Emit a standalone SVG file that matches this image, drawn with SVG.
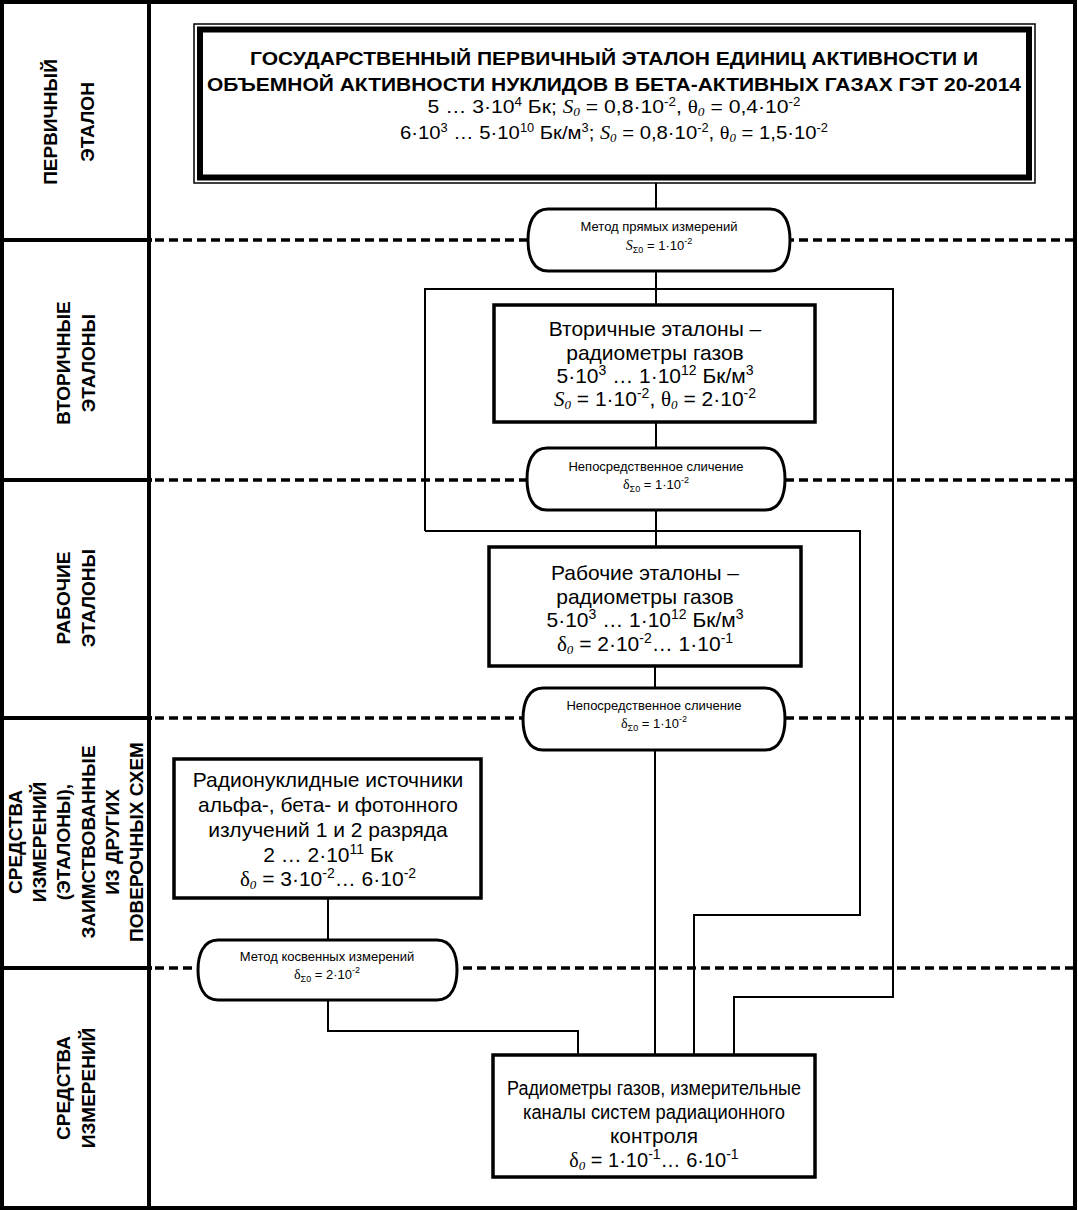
<svg xmlns="http://www.w3.org/2000/svg" width="1078" height="1210" viewBox="0 0 1078 1210">
<style>
text{font-family:"Liberation Sans",Arial,sans-serif;fill:#000}
.b{font-weight:bold}
.lab{font-weight:bold;font-size:19px;text-anchor:middle}
.c{text-anchor:middle}
.it{font-family:"Liberation Serif","Times New Roman",serif;font-style:italic}
.gr{font-family:"Liberation Serif","Times New Roman",serif}
.box{fill:#fff;stroke:#000;stroke-width:3.5}
.ell{fill:#fff;stroke:#000;stroke-width:3}
.ln{fill:none;stroke:#000;stroke-width:2}
.dash{fill:none;stroke:#000;stroke-width:3.5;stroke-dasharray:9 5}
.sep{fill:none;stroke:#000;stroke-width:4}
.t21{font-size:21px}
.t13{font-size:13px}
</style>
<rect x="0" y="0" width="1078" height="1210" fill="#fff"/>
<g id="frame">
<rect x="2" y="2" width="1073" height="1206" class="sep"/>
<line x1="149" y1="0" x2="149" y2="1210" class="sep"/>
<line x1="0" y1="240" x2="152" y2="240" class="sep"/>
<line x1="0" y1="480" x2="152" y2="480" class="sep"/>
<line x1="0" y1="718" x2="152" y2="718" class="sep"/>
<line x1="0" y1="968" x2="152" y2="968" class="sep"/>
<line x1="155" y1="240" x2="1073" y2="240" class="dash"/>
<line x1="155" y1="480" x2="1073" y2="480" class="dash"/>
<line x1="155" y1="718" x2="1073" y2="718" class="dash"/>
<line x1="155" y1="968" x2="1073" y2="968" class="dash"/>
</g>
<g id="labels">
<text class="lab" transform="translate(57,122) rotate(-90)">ПЕРВИЧНЫЙ</text>
<text class="lab" transform="translate(94,122) rotate(-90)">ЭТАЛОН</text>
<text class="lab" transform="translate(70,363) rotate(-90)">ВТОРИЧНЫЕ</text>
<text class="lab" transform="translate(95,363) rotate(-90)">ЭТАЛОНЫ</text>
<text class="lab" transform="translate(70,598) rotate(-90)">РАБОЧИЕ</text>
<text class="lab" transform="translate(95,598) rotate(-90)">ЭТАЛОНЫ</text>
<text class="lab" transform="translate(22,842) rotate(-90)">СРЕДСТВА</text>
<text class="lab" transform="translate(46,842) rotate(-90)">ИЗМЕРЕНИЙ</text>
<text class="lab" transform="translate(70,842) rotate(-90)">(ЭТАЛОНЫ),</text>
<text class="lab" transform="translate(95,842) rotate(-90)">ЗАИМСТВОВАННЫЕ</text>
<text class="lab" transform="translate(119,842) rotate(-90)">ИЗ ДРУГИХ</text>
<text class="lab" transform="translate(143,842) rotate(-90)">ПОВЕРОЧНЫХ СХЕМ</text>
<text class="lab" transform="translate(70,1088) rotate(-90)">СРЕДСТВА</text>
<text class="lab" transform="translate(95,1088) rotate(-90)">ИЗМЕРЕНИЙ</text>
</g>
<g id="connectors">
<line x1="656" y1="183" x2="656" y2="209" class="ln"/>
<line x1="656" y1="271" x2="656" y2="305" class="ln"/>
<polyline points="425,531 425,289 893,289 893,997 734,997 734,1055" class="ln"/>
<polyline points="425,531 860,531 860,915 694,915 694,1055" class="ln"/>
<line x1="656" y1="422" x2="656" y2="448" class="ln"/>
<line x1="656" y1="510" x2="656" y2="547" class="ln"/>
<line x1="655" y1="666" x2="655" y2="688" class="ln"/>
<line x1="655" y1="750" x2="655" y2="1055" class="ln"/>
<line x1="328" y1="898" x2="328" y2="940" class="ln"/>
<polyline points="328,1000 328,1031 578,1031 578,1055" class="ln"/>
</g>
<g id="primary">
<rect x="194" y="24" width="841" height="159" fill="#fff" stroke="#000" stroke-width="1.5"/>
<rect x="200" y="29.5" width="829" height="148" fill="none" stroke="#000" stroke-width="6"/>
<text x="614" y="65" class="b c" font-size="18" textLength="728" lengthAdjust="spacingAndGlyphs">ГОСУДАРСТВЕННЫЙ ПЕРВИЧНЫЙ ЭТАЛОН ЕДИНИЦ АКТИВНОСТИ И</text>
<text x="614" y="91" class="b c" font-size="18" textLength="814" lengthAdjust="spacingAndGlyphs">ОБЪЕМНОЙ АКТИВНОСТИ НУКЛИДОВ В БЕТА-АКТИВНЫХ ГАЗАХ ГЭТ 20-2014</text>
<text x="614" y="113" class="c" font-size="19" textLength="373" lengthAdjust="spacingAndGlyphs">5 … 3·10<tspan font-size="12" dy="-7">4</tspan><tspan dy="7"> Бк; </tspan><tspan class="it">S</tspan><tspan class="it" font-size="12" dy="3">0</tspan><tspan dy="-3"> = 0,8·10</tspan><tspan font-size="12" dy="-7">-2</tspan><tspan dy="7">, </tspan><tspan class="gr">θ</tspan><tspan class="it" font-size="12" dy="3">0</tspan><tspan dy="-3"> = 0,4·10</tspan><tspan font-size="12" dy="-7">-2</tspan></text>
<text x="614" y="139" class="c" font-size="19" textLength="428" lengthAdjust="spacingAndGlyphs">6·10<tspan font-size="12" dy="-7">3</tspan><tspan dy="7"> … 5·10</tspan><tspan font-size="12" dy="-7">10</tspan><tspan dy="7"> Бк/м</tspan><tspan font-size="12" dy="-7">3</tspan><tspan dy="7">; </tspan><tspan class="it">S</tspan><tspan class="it" font-size="12" dy="3">0</tspan><tspan dy="-3"> = 0,8·10</tspan><tspan font-size="12" dy="-7">-2</tspan><tspan dy="7">, </tspan><tspan class="gr">θ</tspan><tspan class="it" font-size="12" dy="3">0</tspan><tspan dy="-3"> = 1,5·10</tspan><tspan font-size="12" dy="-7">-2</tspan></text>
</g>
<g id="method1">
<path d="M548,209 H770 C785,209 790,224 790,240 C790,256 785,271 770,271 H548 C533,271 528,256 528,240 C528,224 533,209 548,209 Z" class="ell"/>
<text x="659" y="231" class="c t13">Метод прямых измерений</text>
<text x="659" y="250" class="c t13"><tspan class="it" font-size="14">S</tspan><tspan font-size="9" dy="3">Σ0</tspan><tspan dy="-3"> = 1·10</tspan><tspan font-size="9" dy="-6">-2</tspan></text>
</g>
<g id="secondary">
<rect x="494" y="305" width="321" height="117" class="box"/>
<text x="655" y="336" class="c t21">Вторичные эталоны –</text>
<text x="655" y="360" class="c t21">радиометры газов</text>
<text x="655" y="383" class="c t21">5·10<tspan font-size="14" dy="-8">3</tspan><tspan dy="8"> … 1·10</tspan><tspan font-size="14" dy="-8">12</tspan><tspan dy="8"> Бк/м</tspan><tspan font-size="14" dy="-8">3</tspan></text>
<text x="655" y="406" class="c t21"><tspan class="it">S</tspan><tspan class="it" font-size="13" dy="3">0</tspan><tspan dy="-3"> = 1·10</tspan><tspan font-size="14" dy="-8">-2</tspan><tspan dy="8">, </tspan><tspan class="gr">θ</tspan><tspan class="it" font-size="13" dy="3">0</tspan><tspan dy="-3"> = 2·10</tspan><tspan font-size="14" dy="-8">-2</tspan></text>
</g>
<g id="compare1">
<path d="M547,448 H765 C780,448 785,463 785,479 C785,495 780,510 765,510 H547 C532,510 527,495 527,479 C527,463 532,448 547,448 Z" class="ell"/>
<text x="656" y="471" class="c t13">Непосредственное сличение</text>
<text x="656" y="489" class="c t13"><tspan class="gr" font-size="14">δ</tspan><tspan font-size="9" dy="3">Σ0</tspan><tspan dy="-3"> = 1·10</tspan><tspan font-size="9" dy="-6">-2</tspan></text>
</g>
<g id="working">
<rect x="489" y="547" width="312" height="119" class="box"/>
<text x="645" y="580" class="c t21">Рабочие эталоны –</text>
<text x="645" y="604" class="c t21">радиометры газов</text>
<text x="645" y="627" class="c t21">5·10<tspan font-size="14" dy="-8">3</tspan><tspan dy="8"> … 1·10</tspan><tspan font-size="14" dy="-8">12</tspan><tspan dy="8"> Бк/м</tspan><tspan font-size="14" dy="-8">3</tspan></text>
<text x="645" y="651" class="c t21"><tspan class="gr">δ</tspan><tspan class="it" font-size="13" dy="3">0</tspan><tspan dy="-3"> = 2·10</tspan><tspan font-size="14" dy="-8">-2</tspan><tspan dy="8">… 1·10</tspan><tspan font-size="14" dy="-8">-1</tspan></text>
</g>
<g id="compare2">
<path d="M543,688 H765 C780,688 785,703 785,719 C785,735 780,750 765,750 H543 C528,750 523,735 523,719 C523,703 528,688 543,688 Z" class="ell"/>
<text x="654" y="710" class="c t13">Непосредственное сличение</text>
<text x="654" y="728" class="c t13"><tspan class="gr" font-size="14">δ</tspan><tspan font-size="9" dy="3">Σ0</tspan><tspan dy="-3"> = 1·10</tspan><tspan font-size="9" dy="-6">-2</tspan></text>
</g>
<g id="sources">
<rect x="174" y="759" width="307" height="139" class="box"/>
<text x="328" y="787" class="c t21">Радионуклидные источники</text>
<text x="328" y="812" class="c t21">альфа-, бета- и фотонного</text>
<text x="328" y="837" class="c t21">излучений 1 и 2 разряда</text>
<text x="328" y="862" class="c t21">2 … 2·10<tspan font-size="14" dy="-8">11</tspan><tspan dy="8"> Бк</tspan></text>
<text x="328" y="886" class="c t21"><tspan class="gr">δ</tspan><tspan class="it" font-size="13" dy="3">0</tspan><tspan dy="-3"> = 3·10</tspan><tspan font-size="14" dy="-8">-2</tspan><tspan dy="8">… 6·10</tspan><tspan font-size="14" dy="-8">-2</tspan></text>
</g>
<g id="method2">
<path d="M218,940 H437 C452,940 457,955 457,970 C457,985 452,1000 437,1000 H218 C203,1000 198,985 198,970 C198,955 203,940 218,940 Z" class="ell"/>
<text x="327" y="961" class="c t13">Метод косвенных измерений</text>
<text x="327" y="979" class="c t13"><tspan class="gr" font-size="14">δ</tspan><tspan font-size="9" dy="3">Σ0</tspan><tspan dy="-3"> = 2·10</tspan><tspan font-size="9" dy="-6">-2</tspan></text>
</g>
<g id="instruments">
<rect x="493" y="1055" width="322" height="122" class="box"/>
<text x="654" y="1095" class="c" font-size="20" textLength="294" lengthAdjust="spacingAndGlyphs">Радиометры газов, измерительные</text>
<text x="654" y="1119" class="c" font-size="20" textLength="262" lengthAdjust="spacingAndGlyphs">каналы систем радиационного</text>
<text x="654" y="1143" class="c" font-size="20" textLength="88" lengthAdjust="spacingAndGlyphs">контроля</text>
<text x="654" y="1167" class="c" font-size="20"><tspan class="gr">δ</tspan><tspan class="it" font-size="13" dy="3">0</tspan><tspan dy="-3"> = 1·10</tspan><tspan font-size="14" dy="-8">-1</tspan><tspan dy="8">… 6·10</tspan><tspan font-size="14" dy="-8">-1</tspan></text>
</g>
</svg>
